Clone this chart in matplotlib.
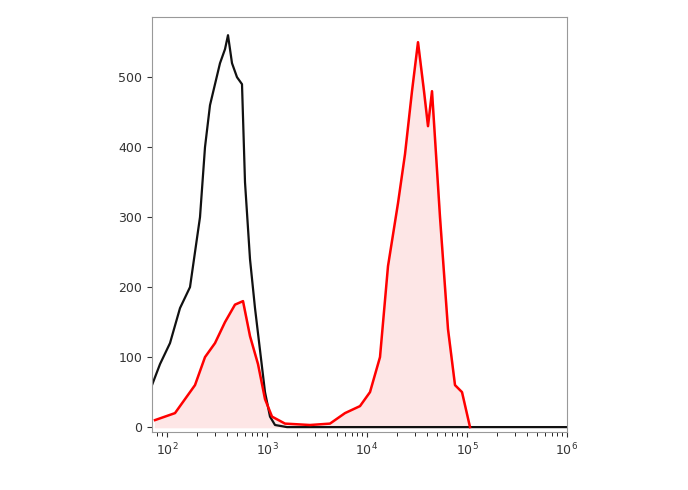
import matplotlib.pyplot as plt
import numpy as np

# log10 of fluorescence intensity and event counts
black_logx = [1.85, 1.93, 2.03, 2.13, 2.23, 2.28, 2.33, 2.38, 2.43, 2.48, 2.53, 2.58, 2.61,
              2.65, 2.70, 2.75, 2.78, 2.83, 2.88, 2.93, 2.98, 3.03, 3.08, 3.2, 4.0, 6.0]
black_count = [60, 90, 120, 170, 200, 250, 300, 400, 460, 490, 520, 540, 560,
               520, 500, 490, 350, 240, 170, 110, 50, 15, 3, 0, 0, 0]

red_logx = [1.88, 1.98, 2.08, 2.18, 2.28, 2.38, 2.48, 2.58, 2.68, 2.76, 2.83, 2.91, 2.98,
            3.05, 3.18, 3.43, 3.63, 3.78, 3.93, 4.03, 4.13, 4.21, 4.31, 4.38, 4.45, 4.51,
            4.57, 4.61, 4.65, 4.73, 4.81, 4.88, 4.95, 5.03]
red_count = [10, 15, 20, 40, 60, 100, 120, 150, 175, 180, 130, 90, 40,
             15, 5, 3, 5, 20, 30, 50, 100, 230, 320, 390, 480, 550,
             480, 430, 480, 300, 140, 60, 50, 0]

yticks = [0, 100, 200, 300, 400, 500]

fig = plt.figure(figsize=(6.88, 4.90), dpi=100)
ax = fig.add_axes([152/688, 1-432/490, 415/688, 415/490])

bx = 10 ** np.array(black_logx)
rx = 10 ** np.array(red_logx)
ax.fill_between(rx, red_count, color='#fde6e6', zorder=1)
ax.plot(bx, black_count, color='#111111', lw=1.6, zorder=2)
ax.plot(rx, red_count, color='#ff0000', lw=1.8, zorder=3)

ax.set_xscale('log')
ax.set_xlim(10**1.85, 1e6)
ax.set_ylim(-7, 586)
ax.set_yticks(yticks)
ax.set_xticks([1e2, 1e3, 1e4, 1e5, 1e6])
for s in ax.spines.values():
    s.set_color('#999999')
ax.tick_params(labelsize=9, colors='#333333', direction='out')
ax.tick_params(axis='x', which='minor', length=3)

fig.savefig('out.png', dpi=100)
